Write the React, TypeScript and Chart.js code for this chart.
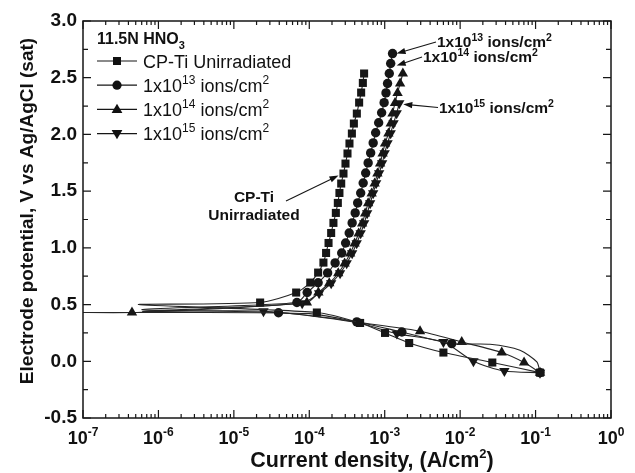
import React, { useEffect, useRef } from 'react';
import { Chart, registerables } from 'chart.js';

Chart.register(...registerables);

const FONT = '"Liberation Sans", Arial, Helvetica, sans-serif';
const INK = '#161616';

// axis ticks
const xDecades = [-7, -6, -5, -4, -3, -2, -1, 0];
const yMajor = [-0.5, 0, 0.5, 1, 1.5, 2, 2.5, 3];

// CP-Ti unirradiated (squares): cathodic -> Ecorr -> anodic
const cpX = [0.1146, 2.67e-2, 6.0e-3, 2.11e-3, 1.01e-3, 4.72e-4, 1.26e-4, 5.45e-7,
  2.23e-5, 6.7e-5, 1.03e-4, 1.31e-4, 1.54e-4, 1.67e-4, 1.80e-4, 1.95e-4, 2.09e-4, 2.25e-4,
  2.39e-4, 2.51e-4, 2.65e-4, 2.84e-4, 3.02e-4, 3.21e-4, 3.41e-4, 3.67e-4, 3.90e-4, 4.27e-4,
  4.58e-4, 4.87e-4, 5.13e-4, 5.33e-4];
const cpY = [-0.100, -0.011, 0.077, 0.161, 0.250, 0.338, 0.430, 0.500,
  0.518, 0.606, 0.694, 0.782, 0.870, 0.955, 1.043, 1.131, 1.220, 1.308,
  1.396, 1.484, 1.567, 1.655, 1.743, 1.832, 1.920, 2.008, 2.096, 2.184,
  2.281, 2.369, 2.454, 2.537];
const cpM = [1, 1, 1, 1, 1, 1, 1, 0,
  1, 1, 1, 1, 1, 1, 1, 1, 1, 1,
  1, 1, 1, 1, 1, 1, 1, 1, 1, 1,
  1, 1, 1, 1];

// 1x10^13 ions/cm2 (circles)
const e13X = [0.1146, 0.104, 6.22e-2, 2.49e-2, 7.74e-3, 1.69e-3, 4.27e-4, 3.91e-5, 6.05e-7,
  6.85e-5, 9.38e-5, 1.31e-4, 1.75e-4, 2.20e-4, 2.69e-4, 3.03e-4, 3.38e-4, 3.70e-4, 4.06e-4,
  4.38e-4, 4.80e-4, 5.18e-4, 5.59e-4, 6.03e-4, 6.51e-4, 7.03e-4, 7.58e-4, 8.31e-4, 9.10e-4,
  9.82e-4, 1.04e-3, 1.09e-3, 1.15e-3, 1.20e-3, 1.27e-3];
const e13Y = [-0.100, -0.006, 0.097, 0.150, 0.156, 0.258, 0.347, 0.428, 0.456,
  0.518, 0.606, 0.692, 0.779, 0.867, 0.955, 1.043, 1.131, 1.220, 1.308,
  1.396, 1.484, 1.572, 1.660, 1.749, 1.837, 1.925, 2.015, 2.103, 2.191,
  2.280, 2.366, 2.449, 2.537, 2.625, 2.713];
const e13M = [1, 0, 0, 0, 1, 1, 1, 1, 0,
  1, 1, 1, 1, 1, 1, 1, 1, 1, 1,
  1, 1, 1, 1, 1, 1, 1, 1, 1, 1,
  1, 1, 1, 1, 1, 1];

// 1x10^14 ions/cm2 (up triangles)
const e14X = [0.1146, 7.04e-2, 3.56e-2, 1.05e-2, 2.94e-3, 5.0e-4, 1.0e-4, 4.46e-7, 1.0e-7, 6.0e-7,
  9.29e-5, 1.32e-4, 1.84e-4, 2.42e-4, 2.94e-4, 3.48e-4, 3.99e-4, 4.51e-4, 5.02e-4, 5.50e-4,
  6.03e-4, 6.71e-4, 7.35e-4, 8.00e-4, 8.69e-4, 9.38e-4, 1.01e-3, 1.12e-3, 1.20e-3, 1.27e-3,
  1.37e-3, 1.48e-3, 1.60e-3, 1.74e-3];
const e14Y = [-0.100, -0.011, 0.077, 0.170, 0.265, 0.340, 0.420, 0.430, 0.430, 0.432,
  0.518, 0.606, 0.688, 0.776, 0.862, 0.950, 1.038, 1.126, 1.214, 1.302,
  1.393, 1.479, 1.567, 1.655, 1.743, 1.832, 1.920, 2.008, 2.096, 2.184,
  2.278, 2.366, 2.449, 2.537];
const e14M = [1, 1, 1, 1, 1, 0, 0, 1, 0, 0,
  1, 1, 1, 1, 1, 1, 1, 1, 1, 1,
  1, 1, 1, 1, 1, 1, 1, 1, 1, 1,
  1, 1, 1, 1];

// 1x10^15 ions/cm2 (down triangles)
const e15X = [0.1146, 3.86e-2, 1.50e-2, 6.0e-3, 1.45e-3, 4.06e-4, 2.47e-5, 6.2e-7,
  8.05e-5, 1.35e-4, 1.95e-4, 2.56e-4, 3.13e-4, 3.70e-4, 4.25e-4, 4.80e-4, 5.34e-4, 5.85e-4,
  6.41e-4, 7.03e-4, 7.70e-4, 8.44e-4, 9.24e-4, 9.98e-4, 1.09e-3, 1.20e-3, 1.31e-3, 1.44e-3,
  1.56e-3];
const e15Y = [-0.100, -0.086, 0.000, 0.170, 0.244, 0.344, 0.441, 0.440,
  0.512, 0.600, 0.688, 0.776, 0.864, 0.952, 1.041, 1.129, 1.217, 1.305,
  1.393, 1.482, 1.570, 1.658, 1.746, 1.834, 1.922, 2.011, 2.099, 2.187,
  2.275];
const e15M = [1, 1, 1, 1, 1, 0, 1, 0,
  1, 1, 1, 1, 1, 1, 1, 1, 1, 1,
  1, 1, 1, 1, 1, 1, 1, 1, 1, 1,
  1];

const seriesNames = ['CP-Ti Unirradiated', '1x10^13 ions/cm^2', '1x10^14 ions/cm^2', '1x10^15 ions/cm^2'];

type Part = { t: string; size: number; dy?: number };

function drawParts(ctx: CanvasRenderingContext2D, parts: Part[], x: number, y: number, bold: boolean, align: 'left' | 'center') {
  const widths = parts.map((p) => {
    ctx.font = `${bold ? 'bold ' : ''}${p.size}px ${FONT}`;
    return ctx.measureText(p.t).width;
  });
  const total = widths.reduce((a, b) => a + b, 0);
  let cx = align === 'center' ? x - total / 2 : x;
  ctx.textAlign = 'left';
  ctx.textBaseline = 'alphabetic';
  parts.forEach((p, i) => {
    ctx.font = `${bold ? 'bold ' : ''}${p.size}px ${FONT}`;
    ctx.fillText(p.t, cx, y + (p.dy || 0));
    cx += widths[i];
  });
}

function drawMarker(ctx: CanvasRenderingContext2D, kind: string, x: number, y: number) {
  ctx.beginPath();
  if (kind === 'rect') {
    ctx.rect(x - 4, y - 4, 8, 8);
  } else if (kind === 'circle') {
    ctx.arc(x, y, 4.6, 0, Math.PI * 2);
  } else if (kind === 'up') {
    ctx.moveTo(x, y - 5.6);
    ctx.lineTo(x + 5.4, y + 3.6);
    ctx.lineTo(x - 5.4, y + 3.6);
    ctx.closePath();
  } else {
    ctx.moveTo(x, y + 5.6);
    ctx.lineTo(x + 5.4, y - 3.6);
    ctx.lineTo(x - 5.4, y - 3.6);
    ctx.closePath();
  }
  ctx.fill();
}

function arrow(ctx: CanvasRenderingContext2D, x1: number, y1: number, x2: number, y2: number) {
  const a = Math.atan2(y2 - y1, x2 - x1);
  const L = 9;
  const W = 3.2;
  ctx.beginPath();
  ctx.moveTo(x1, y1);
  ctx.lineTo(x2 - Math.cos(a) * L * 0.8, y2 - Math.sin(a) * L * 0.8);
  ctx.stroke();
  ctx.beginPath();
  ctx.moveTo(x2, y2);
  ctx.lineTo(x2 - Math.cos(a) * L - Math.sin(a) * W, y2 - Math.sin(a) * L + Math.cos(a) * W);
  ctx.lineTo(x2 - Math.cos(a) * L + Math.sin(a) * W, y2 - Math.sin(a) * L - Math.cos(a) * W);
  ctx.closePath();
  ctx.fill();
}

const decorPlugin = {
  id: 'decor',
  afterDraw(chart: any) {
    const ctx: CanvasRenderingContext2D = chart.ctx;
    const xs = chart.scales.x;
    const ys = chart.scales.y;
    const { left, right, top, bottom } = chart.chartArea;
    ctx.save();
    ctx.strokeStyle = INK;
    ctx.fillStyle = INK;

    // frame
    ctx.lineWidth = 1.5;
    ctx.strokeRect(left, top, right - left, bottom - top);

    // x ticks (inward, mirrored)
    ctx.lineWidth = 1.2;
    ctx.beginPath();
    xDecades.forEach((d) => {
      const px = xs.getPixelForValue(Math.pow(10, d));
      ctx.moveTo(px, bottom); ctx.lineTo(px, bottom - 8);
      ctx.moveTo(px, top); ctx.lineTo(px, top + 8);
      if (d < 0) {
        for (let k = 2; k <= 9; k++) {
          const pm = xs.getPixelForValue(k * Math.pow(10, d));
          ctx.moveTo(pm, bottom); ctx.lineTo(pm, bottom - 4);
          ctx.moveTo(pm, top); ctx.lineTo(pm, top + 4);
        }
      }
    });
    // y ticks
    yMajor.forEach((v) => {
      const py = ys.getPixelForValue(v);
      ctx.moveTo(left, py); ctx.lineTo(left + 8, py);
      ctx.moveTo(right, py); ctx.lineTo(right - 8, py);
      if (v < 3) {
        const pm = ys.getPixelForValue(v + 0.25);
        ctx.moveTo(left, pm); ctx.lineTo(left + 5, pm);
        ctx.moveTo(right, pm); ctx.lineTo(right - 5, pm);
      }
    });
    ctx.stroke();

    // x tick labels
    ctx.fillStyle = '#111';
    xDecades.forEach((d) => {
      const px = xs.getPixelForValue(Math.pow(10, d));
      drawParts(ctx, [{ t: '10', size: 18 }, { t: String(d), size: 12, dy: -8 }], px, bottom + 26, true, 'center');
    });

    // axis titles
    drawParts(ctx, [{ t: 'Current density, (A/cm', size: 21.5 }, { t: '2', size: 13, dy: -9 }, { t: ')', size: 21.5 }],
      372, bottom + 49, true, 'center');
    ctx.save();
    ctx.translate(33, 211);
    ctx.rotate(-Math.PI / 2);
    drawParts(ctx, [{ t: 'Electrode potential, V vs Ag/AgCl (sat)', size: 19 }], 0, 0, true, 'center');
    ctx.restore();

    // legend
    drawParts(ctx, [{ t: '11.5N HNO', size: 16 }, { t: '3', size: 11, dy: 5 }], left + 14, top + 23, true, 'left');
    const kinds = ['rect', 'circle', 'up', 'down'];
    seriesNames.forEach((name, i) => {
      const cy = top + 40 + i * 24.2;
      ctx.lineWidth = 1.2;
      ctx.beginPath();
      ctx.moveTo(left + 14, cy); ctx.lineTo(left + 54, cy);
      ctx.stroke();
      drawMarker(ctx, kinds[i], left + 34, cy);
      const m = name.match(/^1x10\^(\d+) ions\/cm\^2$/);
      const parts: Part[] = m
        ? [{ t: '1x10', size: 18 }, { t: m[1], size: 12, dy: -8 }, { t: ' ions/cm', size: 18 }, { t: '2', size: 12, dy: -8 }]
        : [{ t: name, size: 18 }];
      drawParts(ctx, parts, left + 60, cy + 6.5, false, 'left');
    });

    // annotations
    ctx.lineWidth = 1.1;
    const P = (x: number, y: number) => [xs.getPixelForValue(x), ys.getPixelForValue(y)];
    const ann = (label: string, tx: number, ty: number, ax: number, ay: number, tip: number[]) => {
      drawParts(ctx, [{ t: '1x10', size: 15.5 }, { t: label, size: 10.5, dy: -6.5 }, { t: ' ions/cm', size: 15.5 }, { t: '2', size: 10.5, dy: -6.5 }], tx, ty, true, 'left');
      arrow(ctx, ax, ay, tip[0], tip[1]);
    };
    const t13 = P(1.27e-3, 2.713);
    ann('13', 437, 47, 436, 42, [t13[0] + 4, t13[1]]);
    const t14 = P(1.20e-3, 2.625);
    ann('14', 423, 62, 422, 57, [t14[0] + 6, t14[1] + 2]);
    const t15 = P(1.56e-3, 2.275);
    ann('15', 439, 113, 438, 107.5, [t15[0] + 4, t15[1] + 1]);
    drawParts(ctx, [{ t: 'CP-Ti', size: 15.5 }], 254, 202, true, 'center');
    drawParts(ctx, [{ t: 'Unirradiated', size: 15.5 }], 254, 220, true, 'center');
    const tcp = P(2.84e-4, 1.655);
    arrow(ctx, 286, 201, tcp[0] - 5, tcp[1] + 2);

    ctx.restore();
  },
};

function makeSet(xv: number[], yv: number[], mv: number[], style: string, radius: number, rotation = 0) {
  return {
    data: xv.map((x, i) => ({ x, y: yv[i] })),
    showLine: true,
    borderColor: '#262626',
    borderWidth: 1.1,
    backgroundColor: INK,
    pointBackgroundColor: INK,
    pointBorderColor: INK,
    pointBorderWidth: 0,
    pointStyle: style,
    rotation,
    pointRadius: mv.map((m) => (m ? radius : 0)),
    pointHoverRadius: mv.map((m) => (m ? radius : 0)),
    tension: 0.25,
    fill: false,
  };
}

export default function App() {
  const ref = useRef<HTMLCanvasElement | null>(null);
  useEffect(() => {
    if (!ref.current) return;
    const chart = new Chart(ref.current, {
      type: 'scatter',
      data: {
        datasets: [
          { label: seriesNames[0], ...makeSet(cpX, cpY, cpM, 'rect', 5.7) },
          { label: seriesNames[1], ...makeSet(e13X, e13Y, e13M, 'circle', 4.7) },
          { label: seriesNames[2], ...makeSet(e14X, e14Y, e14M, 'triangle', 6.0) },
          { label: seriesNames[3], ...makeSet(e15X, e15Y, e15M, 'triangle', 6.0, 180) },
        ] as any,
      },
      options: {
        animation: false,
        responsive: false,
        maintainAspectRatio: false,
        layout: { padding: { top: 21, right: 24, left: 0, bottom: 0 } },
        plugins: { legend: { display: false }, tooltip: { enabled: false } },
        scales: {
          x: {
            type: 'logarithmic',
            min: 1e-7,
            max: 1,
            ticks: { display: false },
            grid: { display: false, drawTicks: false },
            border: { display: false },
            afterFit: (s: any) => { s.height = 55; },
          },
          y: {
            type: 'linear',
            min: -0.5,
            max: 3,
            ticks: {
              stepSize: 0.5,
              color: '#111',
              padding: 6,
              font: { family: FONT, size: 19, weight: 'bold' },
              callback: (v: any) => Number(v).toFixed(1),
            },
            grid: { display: false, drawTicks: false },
            border: { display: false },
            afterFit: (s: any) => { s.width = 83; },
          },
        },
      } as any,
      plugins: [decorPlugin],
    });
    return () => chart.destroy();
  }, []);
  return (
    <div style={{ position: 'fixed', left: 0, top: 0, width: 635, height: 473, background: '#fff' }}>
      <canvas ref={ref} width={635} height={473} style={{ display: 'block' }} />
    </div>
  );
}
